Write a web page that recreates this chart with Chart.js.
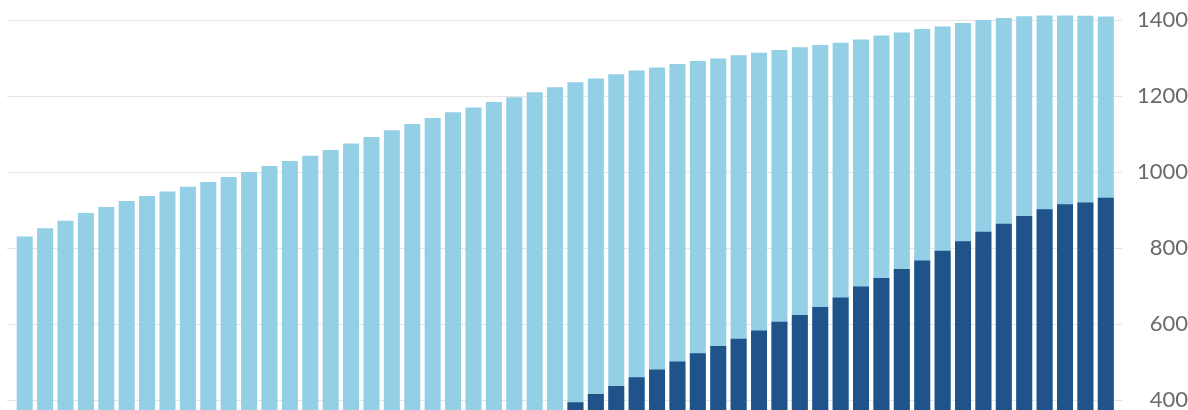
<!DOCTYPE html>
<html>
<head>
<meta charset="utf-8">
<script src="https://cdn.jsdelivr.net/npm/chart.js@4"></script>
<style>
  html, body { margin: 0; padding: 0; background: #fff; overflow: hidden; }
</style>
</head>
<body>
<canvas id="barChart" width="1188" height="410"></canvas>
<script>
// 54 periods, x axis is not labelled in the picture
const categories = Array.from({ length: 54 }, (_, i) => String(i + 1));

// total (light blue bars)
const totalValues = [
  830, 852, 872, 892, 908, 924, 937, 949, 961, 974,
  987, 1000, 1016, 1029, 1043, 1058, 1075, 1092, 1110, 1126,
  1142, 1157, 1170, 1184, 1197, 1210, 1223, 1236, 1246, 1257,
  1267, 1275, 1284, 1292, 1299, 1307, 1314, 1321, 1328, 1334,
  1340, 1349, 1359, 1367, 1376, 1383, 1392, 1400, 1405, 1410,
  1412, 1412, 1411, 1409
];

// part (dark blue bars), below the visible range before period 28
const partValues = [
  null, null, null, null, null, null, null, null, null, null,
  null, null, null, null, null, null, null, null, null, null,
  null, null, null, null, null, null, null, 394, 416, 437,
  460, 480, 501, 523, 542, 561, 583, 606, 624, 645,
  670, 699, 721, 745, 767, 793, 818, 843, 864, 884,
  902, 915, 920, 932
];

const yTicks = [400, 600, 800, 1000, 1200, 1400];

// horizontal rules run a bit wider than the plot area
const gridPlugin = {
  id: 'wideGrid',
  beforeDatasetsDraw(chart) {
    const { ctx, chartArea, scales } = chart;
    ctx.save();
    ctx.strokeStyle = '#e4e4e4';
    ctx.lineWidth = 1;
    yTicks.forEach(v => {
      const y = Math.round(scales.y.getPixelForValue(v)) + 0.5;
      ctx.beginPath();
      ctx.moveTo(7, y);
      ctx.lineTo(chartArea.right + 6, y);
      ctx.stroke();
    });
    ctx.restore();
  }
};

const ctx = document.getElementById('barChart').getContext('2d');

const chart = new Chart(ctx, {
  type: 'bar',
  data: {
    labels: categories,
    datasets: [
      {
        label: 'Part',
        data: partValues,
        backgroundColor: '#20538a',
        grouped: false,
        barPercentage: 0.785,
        categoryPercentage: 1,
        clip: false
      },
      {
        label: 'Total',
        data: totalValues,
        backgroundColor: '#93cfe5',
        grouped: false,
        barPercentage: 0.785,
        categoryPercentage: 1,
        clip: false
      }
    ]
  },
  plugins: [gridPlugin],
  options: {
    responsive: false,
    animation: false,
    layout: {
      padding: { top: 20, right: 0, left: 14.5, bottom: 0 }
    },
    plugins: {
      legend: { display: false },
      tooltip: { enabled: false }
    },
    scales: {
      x: {
        display: false,
        offset: true
      },
      y: {
        position: 'right',
        stacked: false,
        min: 400 - 10 / 0.38,
        max: 1400,
        border: { display: false },
        grid: { display: false },
        afterBuildTicks: axis => {
          axis.ticks = yTicks.map(v => ({ value: v }));
        },
        afterFit: axis => {
          axis.width = 72;
          axis.paddingTop = 0;
          axis.paddingBottom = 0;
        },
        ticks: {
          padding: 16,
          crossAlign: 'far',
          color: '#6a6a6a',
          font: { family: 'Lato', size: 22 },
          callback: v => String(v)
        }
      }
    }
  }
});
</script>
</body>
</html>
